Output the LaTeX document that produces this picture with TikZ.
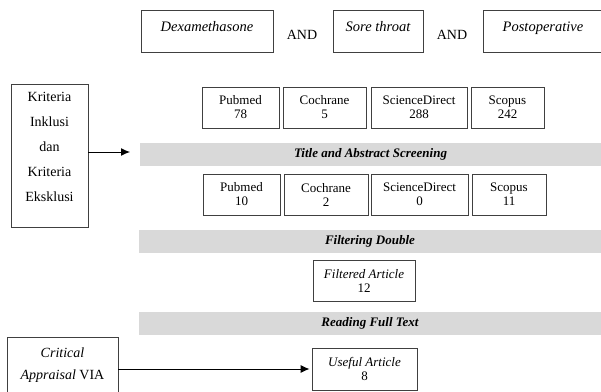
\documentclass[tikz,border=0pt]{standalone}
\usepackage{fontspec}
\setmainfont{Liberation Serif}
\usetikzlibrary{arrows.meta}

\tikzset{
  box/.style={draw=black!75,line width=0.8pt,fill=white,inner sep=0pt,
    align=center,font=\fontsize{13}{14}\selectfont},
  keyword/.style={box,minimum height=42pt,text depth=9pt,
    font=\fontsize{14.5}{16}\itshape\selectfont},
  band/.style={fill=black!15,inner sep=0pt,minimum height=23pt,
    font=\fontsize{13}{14}\bfseries\itshape\selectfont},
  andtext/.style={inner sep=0pt,font=\fontsize{14}{16}\selectfont},
  flow/.style={-{Latex[length=9pt,width=8pt]},line width=1pt}
}

\begin{document}
\begin{tikzpicture}[x=1pt,y=-1pt]
\useasboundingbox (0,0) rectangle (601,391);
\clip (0,0) rectangle (601,391);
%keywords
\node[keyword,minimum width=132pt] (dexa) at (207,31) {Dexamethasone};
\node[andtext] (and1) at (302,35) {AND};
\node[keyword,minimum width=90pt] (sore) at (378,31) {Sore throat};
\node[andtext] (and2) at (452,35) {AND};
\node[keyword,minimum width=120pt] (postop) at (543,31) {Postoperative};
% side boxes
\node[box,minimum width=77pt,minimum height=143pt,text depth=18pt,
  font=\fontsize{14}{25}\selectfont] (kriteria) at (49.5,155.5)
  {Kriteria\\Inklusi\\dan\\Kriteria\\Eksklusi};
\node[box,minimum width=111pt,minimum height=56pt,
  font=\fontsize{14}{22}\selectfont] (critical) at (62.5,365)
  {\textit{Critical}\\\textit{Appraisal} VIA};
%search results
\node[box,minimum width=77pt,minimum height=41pt] (pub1) at (240.5,107.5) {Pubmed\\78};
\node[box,minimum width=83pt,minimum height=41pt] (coch1) at (324.5,107.5) {Cochrane\\5};
\node[box,minimum width=96pt,minimum height=41pt] (sd1) at (419,107.5) {ScienceDirect\\288};
\node[box,minimum width=73pt,minimum height=41pt] (sco1) at (507.5,107.5) {Scopus\\242};
%screening
\node[band,minimum width=461pt] (tas) at (370.5,154) {Title and Abstract Screening};
\node[box,minimum width=77pt,minimum height=41pt] (pub2) at (241.5,194.5) {Pubmed\\10};
\node[box,minimum width=84pt,minimum height=41pt] (coch2) at (326,194.5) {Cochrane\\2};
\node[box,minimum width=97pt,minimum height=41pt] (sd2) at (419.5,194.5) {ScienceDirect\\0};
\node[box,minimum width=74pt,minimum height=41pt] (sco2) at (509,194.5) {Scopus\\11};
% double and full text
\node[band,minimum width=462pt] (dbl) at (370,241) {Filtering Double};
\node[box,minimum width=102pt,minimum height=41pt] (filtered) at (364,280.5)
  {\textit{Filtered Article}\\12};
\node[band,minimum width=462pt] (full) at (370,323.5) {Reading Full Text};
\node[box,minimum width=105pt,minimum height=42pt] (useful) at (364.5,369)
  {\textit{Useful Article}\\8};
%arrows
\coordinate (ktip) at (130,152);
\draw[flow] (kriteria.east |- ktip) -- (ktip);
\draw[flow] (critical.east |- useful.west) -- ([xshift=-2pt]useful.west);
\end{tikzpicture}
\end{document}
